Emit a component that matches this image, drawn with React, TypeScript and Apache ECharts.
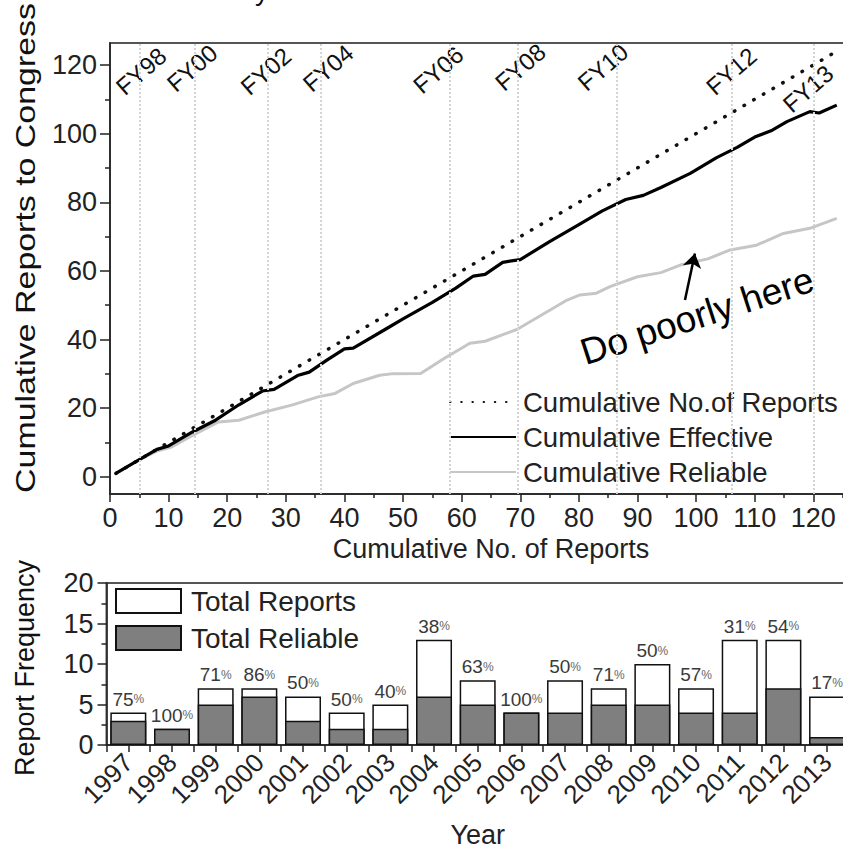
import React, { useEffect, useRef } from "react";
import * as echarts from "echarts";

// ---- yearly report counts (lower panel) ----
const years = [
  "1997", "1998", "1999", "2000", "2001", "2002", "2003", "2004", "2005",
  "2006", "2007", "2008", "2009", "2010", "2011", "2012", "2013",
];
const totalReports = [4, 2, 7, 7, 6, 4, 5, 13, 8, 4, 8, 7, 10, 7, 13, 13, 6];
const totalReliable = [3, 2, 5, 6, 3, 2, 2, 6, 5, 4, 4, 5, 5, 4, 4, 7, 1];
const reliablePercent = [75, 100, 71, 86, 50, 50, 40, 38, 63, 100, 50, 71, 50, 57, 31, 54, 17];

// ---- cumulative curves (upper panel), [report number, cumulative count] ----
const cumulativeEffective: [number, number][] = [
  [1, 1], [5, 5], [8, 8], [10, 9], [14, 13], [18, 16.5], [22, 21], [26, 25],
  [28, 25.5], [32, 29.5], [34, 30.5], [37, 34], [40, 37.3], [41.5, 37.5],
  [47, 43], [50, 46], [55, 50.8], [59, 55], [62, 58.5], [64, 59], [67, 62.5],
  [70, 63.3], [75, 68.5], [80, 73.5], [84, 77.5], [88, 80.8], [91, 82],
  [94, 84.3], [99, 88.4], [103.5, 93], [107, 96], [110, 99], [113, 101],
  [115.5, 103.5], [119.4, 106.4], [121, 106], [124, 108.3],
];
const cumulativeReliable: [number, number][] = [
  [1, 1], [5, 5], [8, 7.5], [10.5, 8.7], [14, 12], [18.5, 16], [22, 16.5],
  [26.4, 18.9], [31, 20.9], [35.5, 23.3], [38.4, 24.3], [41.5, 27.2],
  [46, 29.6], [48, 30], [53, 30.1], [57, 34.5], [61.4, 38.9], [64, 39.5],
  [69.5, 43], [74, 47.5], [78, 51.5], [80.2, 53], [83, 53.5], [85.3, 55.4],
  [90, 58.3], [94, 59.5], [97.3, 61.7], [102, 63.5], [105.8, 66.1],
  [110.3, 67.5], [114.9, 70.9], [119.4, 72.4], [124, 75.3],
];

// fiscal-year boundaries on the report axis, and where their labels sit
const fyNames = ["FY98", "FY00", "FY02", "FY04", "FY06", "FY08", "FY10", "FY12", "FY13"];
const fyBoundaries = [5, 14.5, 27, 36, 58, 69.5, 86.5, 106, 120];
const fyLabelX = [5.3, 14, 26.6, 37.2, 56, 70, 84.1, 106, 119.1];
const fyLabelY = [118.2, 119.1, 118.2, 119.1, 118.6, 119.4, 119.4, 118.2, 113.1];

// annotation arrow: tail and head in data coordinates
const arrowTail: [number, number] = [98.1, 51.5];
const arrowHead: [number, number] = [99.8, 65.1];

const FONT = "'Liberation Sans', Arial, Helvetica, sans-serif";
const INK = "#222";

export default function App() {
  const ref = useRef<HTMLDivElement>(null);

  useEffect(() => {
    if (!ref.current) return;
    const chart = echarts.init(ref.current, null, { renderer: "svg" });

    // every report counted once: the identity curve of cumulative reports
    const cumulativeCount: [number, number][] = [];
    let n = 0;
    totalReports.forEach((t) => {
      for (let i = 0; i < t; i++) {
        n += 1;
        cumulativeCount.push([n, n]);
      }
    });

    const axisLineStyle = { color: INK, width: 1.5 };
    const labelStyle = { fontFamily: FONT, color: INK };
    const noSymbol = { opacity: 0 };

    const option: any = {
      animation: false,
      textStyle: { fontFamily: FONT },
      grid: [
        {
          left: 110, top: 43, width: 130 * 5.861, height: 451,
          show: true, borderColor: "#555", borderWidth: 2,
          outerBoundsMode: "none",
        },
        {
          left: 106.5, top: 583, width: 17 * 43.67, height: 162,
          show: true, borderColor: "#555", borderWidth: 2,
          outerBoundsMode: "none",
        },
      ],
      xAxis: [
        {
          type: "value", gridIndex: 0, min: 0, max: 130, interval: 10,
          axisLine: { show: true, onZero: false, lineStyle: axisLineStyle },
          axisTick: { show: true, length: 8, lineStyle: axisLineStyle },
          minorTick: { show: true, splitNumber: 2, length: 4, lineStyle: axisLineStyle },
          splitLine: { show: false },
          minorSplitLine: { show: false },
          axisLabel: { ...labelStyle, fontSize: 27, margin: 10, showMaxLabel: false },
          name: "Cumulative No. of Reports",
          nameLocation: "middle",
          nameGap: 41,
          nameTextStyle: { ...labelStyle, fontSize: 27 },
        },
        {
          type: "category", gridIndex: 1, data: years, position: "bottom",
          axisLine: { show: true, onZero: false, lineStyle: axisLineStyle },
          axisTick: { show: true, alignWithLabel: true, length: 7, lineStyle: axisLineStyle },
          axisLabel: { ...labelStyle, fontSize: 26, rotate: 45, margin: 13, interval: 0 },
          splitLine: { show: false },
          name: "Year",
          nameLocation: "middle",
          nameGap: 76,
          nameTextStyle: { ...labelStyle, fontSize: 27 },
        },
        {
          type: "category", gridIndex: 1, data: years, position: "bottom",
          axisLine: { show: false },
          axisTick: { show: true, length: 7, interval: 0, lineStyle: axisLineStyle },
          axisLabel: { show: false },
          splitLine: { show: false },
        },
      ],
      yAxis: [
        {
          type: "value", gridIndex: 0, min: -5, max: 126.4, position: "left",
          axisLine: { show: true, onZero: false, lineStyle: axisLineStyle },
          axisTick: {
            show: true, length: 10, lineStyle: axisLineStyle,
            customValues: [0, 20, 40, 60, 80, 100, 120],
          },
          axisLabel: {
            ...labelStyle, fontSize: 27, margin: 13,
            customValues: [0, 20, 40, 60, 80, 100, 120],
          },
          splitLine: { show: false },
        },
        {
          type: "value", gridIndex: 0, min: -5, max: 126.4, position: "left",
          axisLine: { show: false },
          axisTick: {
            show: true, length: 5, lineStyle: axisLineStyle,
            customValues: [10, 30, 50, 70, 90, 110],
          },
          axisLabel: { show: false },
          splitLine: { show: false },
        },
        {
          type: "value", gridIndex: 1, min: 0, max: 20, interval: 5, position: "left",
          axisLine: { show: true, onZero: false, lineStyle: axisLineStyle },
          axisTick: { show: true, length: 9, lineStyle: axisLineStyle },
          minorTick: { show: true, splitNumber: 2, length: 5, lineStyle: axisLineStyle },
          splitLine: { show: false },
          minorSplitLine: { show: false },
          axisLabel: { ...labelStyle, fontSize: 27, margin: 13 },
        },
      ],
      legend: [
        {
          data: [
            { name: "Cumulative No.of Reports", itemStyle: noSymbol },
            { name: "Cumulative Effective", itemStyle: noSymbol },
            { name: "Cumulative Reliable", itemStyle: noSymbol },
          ],
          orient: "vertical",
          left: 449, top: 388, padding: 0,
          itemWidth: 66, itemHeight: 14, itemGap: 7,
          selectedMode: false,
          textStyle: { ...labelStyle, fontSize: 27.5, padding: [0, 0, 0, 2] },
        },
        {
          data: ["Total Reports", "Total Reliable"],
          icon: "rect",
          orient: "vertical",
          left: 115, top: 587, padding: 0,
          itemWidth: 65, itemHeight: 24, itemGap: 9,
          selectedMode: false,
          textStyle: { ...labelStyle, fontSize: 28, padding: [0, 0, 0, 5] },
        },
      ],
      series: [
        {
          name: "Cumulative Reliable",
          type: "line", xAxisIndex: 0, yAxisIndex: 0,
          data: cumulativeReliable,
          symbol: "none",
          lineStyle: { color: "#c6c6c6", width: 3 },
          itemStyle: { color: "#c6c6c6" },
          markLine: {
            silent: true,
            symbol: ["none", "arrow"],
            symbolSize: 14,
            label: { show: false },
            lineStyle: { color: "#000", width: 2.5, type: "solid" },
            data: [[{ coord: arrowTail }, { coord: arrowHead }]],
          },
        },
        {
          name: "Cumulative No.of Reports",
          type: "line", xAxisIndex: 0, yAxisIndex: 0,
          data: cumulativeCount,
          symbol: "none",
          lineStyle: { color: "#111", width: 3.5, type: [0.5, 10.7], cap: "round" },
          itemStyle: { color: "#111" },
          markLine: {
            silent: true,
            symbol: ["none", "none"],
            label: { show: false },
            lineStyle: { color: "#d4d4d4", width: 2, type: "dotted" },
            data: fyBoundaries.map((v) => ({ xAxis: v })),
          },
        },
        {
          name: "Cumulative Effective",
          type: "line", xAxisIndex: 0, yAxisIndex: 0,
          data: cumulativeEffective,
          symbol: "none",
          lineStyle: { color: "#000", width: 3.2 },
          itemStyle: { color: "#000" },
        },
        {
          name: "FY",
          type: "scatter", xAxisIndex: 0, yAxisIndex: 0,
          symbolSize: 0,
          itemStyle: { opacity: 1, color: "#111" },
          data: fyNames.map((name, i) => ({ name, value: [fyLabelX[i], fyLabelY[i]] })),
          label: {
            show: true, position: "inside", formatter: "{b}",
            rotate: 41, fontSize: 24, color: "#111", opacity: 1, fontFamily: FONT,
          },
          silent: true,
        },
        {
          name: "Total Reports",
          type: "bar", xAxisIndex: 1, yAxisIndex: 2,
          data: totalReports,
          barWidth: 36, barGap: "-100%",
          itemStyle: { color: "#ffffff", borderColor: "#111", borderWidth: 1.5 },
          label: {
            show: true, position: "top", distance: 4,
            formatter: (p: any) => `{n|${reliablePercent[p.dataIndex]}}{p|%}`,
            rich: {
              n: { fontSize: 19, color: "#3a3a3a", fontFamily: FONT },
              p: { fontSize: 12, color: "#666", fontFamily: FONT },
            },
          },
        },
        {
          name: "Total Reliable",
          type: "bar", xAxisIndex: 1, yAxisIndex: 2,
          data: totalReliable,
          barWidth: 36, barGap: "-100%",
          itemStyle: { color: "#7f7f7f", borderColor: "#111", borderWidth: 1.5 },
        },
      ],
      graphic: [
        {
          type: "text", x: 262, y: -10, silent: true,
          style: { text: "y", fontSize: 28, fontFamily: FONT, fill: "#111", align: "center", verticalAlign: "middle" },
        },
        {
          type: "text", x: 25, y: 248, rotation: Math.PI / 2, scaleX: 1.256, silent: true,
          style: {
            text: "Cumulative Reports to Congress", fontSize: 27, fontFamily: FONT,
            fill: "#111", align: "center", verticalAlign: "middle",
          },
        },
        {
          type: "text", x: 25, y: 668, rotation: Math.PI / 2, silent: true,
          style: {
            text: "Report Frequency", fontSize: 27, fontFamily: FONT,
            fill: "#111", align: "center", verticalAlign: "middle",
          },
        },
        {
          type: "text", x: 697, y: 316, rotation: (18 * Math.PI) / 180, silent: true,
          style: {
            text: "Do poorly here", fontSize: 37, fontFamily: FONT,
            fill: "#000", align: "center", verticalAlign: "middle",
          },
        },
      ],
    };

    chart.setOption(option);
    return () => chart.dispose();
  }, []);

  return <div ref={ref} style={{ width: 843, height: 849, position: "absolute", left: 0, top: 0 }} />;
}
